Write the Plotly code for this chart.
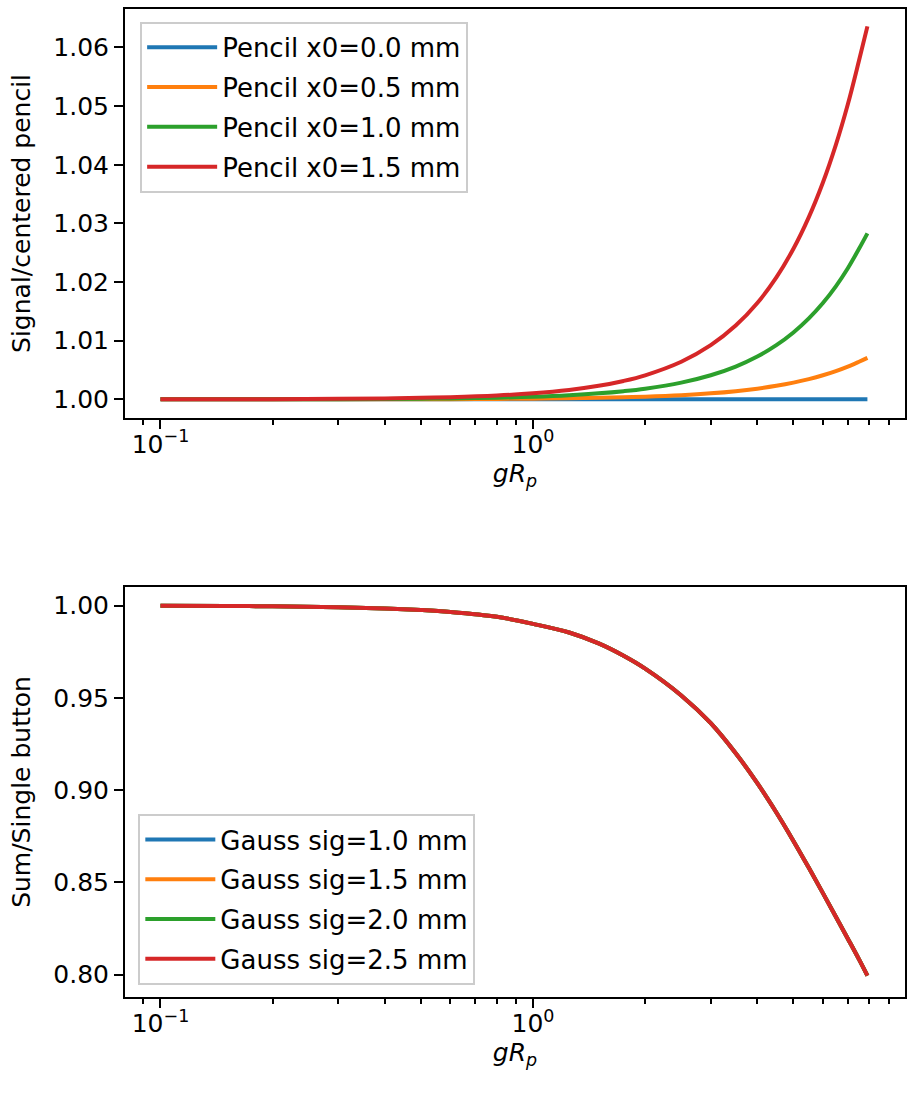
import plotly.graph_objects as go

# ---- data ----
g_rp = [0.1, 0.15, 0.2, 0.3, 0.4, 0.5, 0.6, 0.8, 1.0, 1.25, 1.5, 1.75, 2.0, 2.5,
        3.0, 3.5, 4.0, 4.5, 5.0, 5.5, 6.0, 6.5, 7.0, 7.5, 7.9]

pencil_00 = [1.0] * 25
pencil_05 = [1.000001, 1.000003, 1.000005, 1.000010, 1.000018, 1.000029, 1.000041,
             1.000073, 1.000114, 1.000178, 1.000257, 1.000349, 1.000456, 1.000713,
             1.001027, 1.001398, 1.001826, 1.002311, 1.002853, 1.003452, 1.004108,
             1.004821, 1.005592, 1.006419, 1.007080]
pencil_10 = [1.000005, 1.000010, 1.000018, 1.000041, 1.000073, 1.000114, 1.000164,
             1.000292, 1.000456, 1.000713, 1.001027, 1.001398, 1.001826, 1.002853,
             1.004108, 1.005592, 1.007303, 1.009243, 1.011410, 1.013810, 1.016430,
             1.019280, 1.022370, 1.025670, 1.028300]
pencil_15 = [1.000010, 1.000023, 1.000041, 1.000092, 1.000164, 1.000257, 1.000370,
             1.000657, 1.001027, 1.001605, 1.002311, 1.003145, 1.004108, 1.006419,
             1.009243, 1.012580, 1.016430, 1.020800, 1.025680, 1.031070, 1.036970,
             1.043390, 1.050320, 1.057770, 1.063600]

gauss_ratio = [0.99990, 0.99979, 0.99962, 0.99915, 0.99848, 0.99762, 0.99658,
               0.99393, 0.99010, 0.98540, 0.97950, 0.97281, 0.96585, 0.95132,
               0.93627, 0.92000, 0.90380, 0.88790, 0.87250, 0.85790, 0.84420,
               0.83140, 0.81950, 0.80830, 0.79950]
gauss_10 = list(gauss_ratio)
gauss_15 = list(gauss_ratio)
gauss_20 = list(gauss_ratio)
gauss_25 = list(gauss_ratio)

top_names = ["Pencil x0=0.0 mm", "Pencil x0=0.5 mm", "Pencil x0=1.0 mm", "Pencil x0=1.5 mm"]
bot_names = ["Gauss sig=1.0 mm", "Gauss sig=1.5 mm", "Gauss sig=2.0 mm", "Gauss sig=2.5 mm"]
colors = ["#1f77b4", "#ff7f0e", "#2ca02c", "#d62728"]

top_ticks = [1.00, 1.01, 1.02, 1.03, 1.04, 1.05, 1.06]
bot_ticks = [0.80, 0.85, 0.90, 0.95, 1.00]
x_major = [0.1, 1.0]
x_major_text = ["10<sup>−1</sup>", "10<sup>0</sup>"]
x_minor = [0.08, 0.09, 0.2, 0.3, 0.4, 0.5, 0.6, 0.7, 0.8, 0.9,
           2, 3, 4, 5, 6, 7, 8, 9]

W, H = 910, 1093
FONT = "DejaVu Sans"
FS = 25
LFS = 26

fig = go.Figure()

for name, ys, c in zip(top_names, [pencil_00, pencil_05, pencil_10, pencil_15], colors):
    fig.add_trace(go.Scatter(x=g_rp, y=ys, mode="lines", name=name,
                             line=dict(color=c, width=4, shape="spline", smoothing=1.0),
                             xaxis="x", yaxis="y", legend="legend",
                             legendgroup=name))
for name, ys, c in zip(bot_names, [gauss_10, gauss_15, gauss_20, gauss_25], colors):
    fig.add_trace(go.Scatter(x=g_rp, y=ys, mode="lines", name=name,
                             line=dict(color=c, width=4, shape="spline", smoothing=1.0),
                             xaxis="x2", yaxis="y2", legend="legend2",
                             legendgroup=name))

common_x = dict(
    type="log", range=[-1.0952, 0.9985],
    tickmode="array", tickvals=x_major, ticktext=x_major_text,
    ticks="outside", ticklen=9, tickwidth=2, tickcolor="black",
    ticklabelstandoff=-6,
    minor=dict(tickmode="array", tickvals=x_minor, ticks="outside",
               ticklen=5, tickwidth=1.5, tickcolor="black"),
    showline=True, linecolor="black", linewidth=2, mirror=True,
    showgrid=False, zeroline=False,
    tickfont=dict(family=FONT, size=FS, color="black"),
)
common_y = dict(
    ticks="outside", ticklen=9, tickwidth=2, tickcolor="black",
    showline=True, linecolor="black", linewidth=2, mirror=True,
    showgrid=False, zeroline=False, tickformat=".2f",
    tickfont=dict(family=FONT, size=FS, color="black"),
)

xt = dict(text="<i>gR</i><sub><i>p</i></sub>", font=dict(family=FONT, size=FS, color="black"), standoff=0)

legend_common = dict(
    bgcolor="rgba(255,255,255,0.85)", bordercolor="#cccccc", borderwidth=2,
    font=dict(family=FONT, size=LFS, color="black"),
    xanchor="left", tracegroupgap=3, itemwidth=70,
)

fig.update_layout(
    width=W, height=H,
    margin=dict(l=0, r=0, t=0, b=0),
    paper_bgcolor="white", plot_bgcolor="white",
    font=dict(family=FONT, size=FS, color="black"),
    xaxis=dict(domain=[0.1374, 0.9945], anchor="y", title=xt, **common_x),
    yaxis=dict(domain=[0.6176, 0.9918], anchor="x", range=[0.99683, 1.06657],
               tickvals=top_ticks,
               title=dict(text="Signal/centered pencil", font=dict(family=FONT, size=FS, color="black"), standoff=16),
               **common_y),
    xaxis2=dict(domain=[0.1374, 0.9945], anchor="y2", title=xt, **common_x),
    yaxis2=dict(domain=[0.0878, 0.4630], anchor="x2", range=[0.7879, 1.0101],
                tickvals=bot_ticks,
                title=dict(text="Sum/Single button", font=dict(family=FONT, size=FS, color="black"), standoff=16),
                **common_y),
    legend=dict(x=0.154, y=0.980, yanchor="top", **legend_common),
    legend2=dict(x=0.152, y=0.0988, yanchor="bottom", **legend_common),
    showlegend=True,
)

fig.write_html("out.html")
